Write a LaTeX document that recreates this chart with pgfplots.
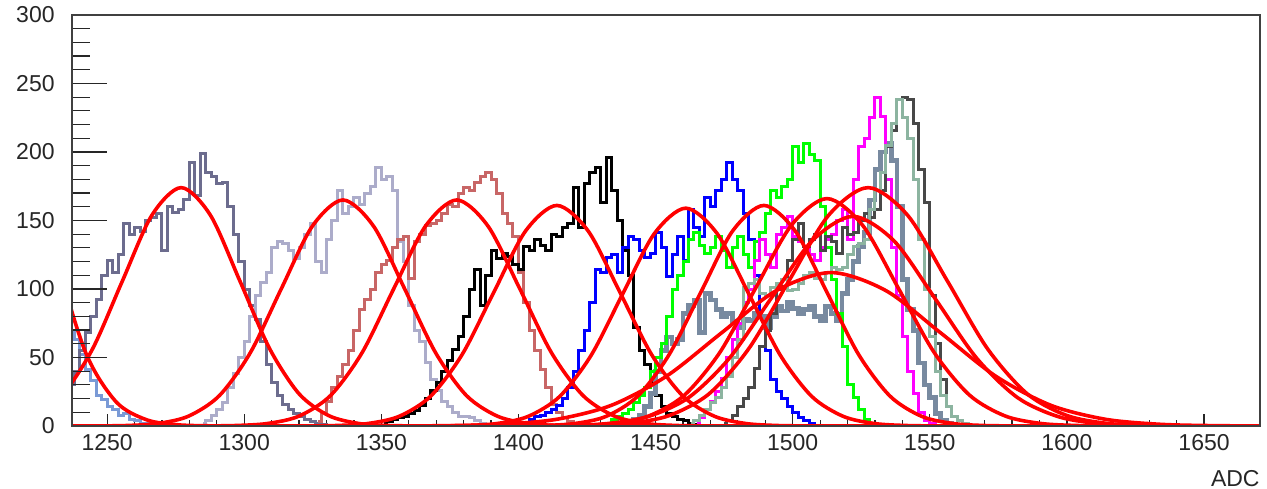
\documentclass[border=0pt]{standalone}
\usepackage{fontspec}
\setmainfont{Liberation Sans}
\usepackage{pgfplots}
\pgfplotsset{compat=1.18}
\definecolor{hA}{RGB}{122,154,214}
\definecolor{hB}{RGB}{108,108,142}
\definecolor{hC}{RGB}{172,172,202}
\definecolor{hD}{RGB}{200,102,102}
\definecolor{hH}{RGB}{120,138,160}
\definecolor{hJ}{RGB}{72,72,72}
\definecolor{hK}{RGB}{140,180,160}
\definecolor{hM}{RGB}{255,0,255}
\definecolor{hG}{RGB}{0,255,0}
\definecolor{hE}{RGB}{0,0,255}
\definecolor{fitred}{RGB}{255,0,0}
\begin{document}
\begin{tikzpicture}
\pgfplotsset{
  base/.style={
    scale only axis, width=594bp, height=205.5bp,
    xmin=1237.2, xmax=1670.4, ymin=0, ymax=300,
    axis line style={line width=0.8bp, black!75},
    tick style={black!85, line width=0.6bp},
    /pgf/number format/assume math mode=true,
    /pgf/number format/1000 sep={},
    tick label style={font=\fontsize{11.5bp}{13bp}\selectfont, black!85},
    anchor=south west, at={(0,0)},
  },
  hist/.style={const plot mark mid, line width=1.5bp, mark=none},
  fit/.style={smooth, line width=1.8bp, fitred, mark=none},
}
\begin{axis}[base,
  xtick={1250,1300,...,1650}, minor x tick num=4, xtick pos=bottom,
  major tick length=6bp, minor tick length=3bp,
  ymajorticks=false,
  xticklabel style={anchor=base, yshift=-12bp},
  xlabel={ADC},
  xlabel style={at={(rel axis cs:1,0)}, anchor=base east, yshift=-30bp, inner sep=0pt, font=\fontsize{11.5bp}{13bp}\selectfont, black!85},
]
% light blue
\addplot[hist, hA] coordinates {(1235,75)(1237,70)(1239,63)(1241,52)(1243,41)(1245,33)(1247,22)(1249,19)(1251,14)(1253,12)(1255,8)(1257,9)(1259,5)(1261,4)(1263,2)(1265,2)(1267,1)(1269,0)(1271,0)};
% dark slate
\addplot[hist, hB] coordinates {(1235,28)(1237,30)(1239,40)(1241,55)(1243,68)(1245,80)(1247,92)(1249,110)(1251,121)(1253,112)(1255,125)(1257,148)(1259,140)(1261,145)(1263,142)(1265,150)(1267,152)(1269,155)(1271,128)(1273,160)(1275,156)(1277,158)(1279,165)(1281,192)(1283,168)(1285,199)(1287,185)(1289,182)(1291,177)(1293,178)(1295,160)(1297,140)(1299,120)(1301,100)(1303,88)(1305,78)(1307,62)(1309,45)(1311,32)(1313,22)(1315,16)(1317,12)(1319,9)(1321,7)(1323,5)(1325,3)(1327,2)(1329,1)(1331,0)};
% lavender
\addplot[hist, hC] coordinates {(1285,2)(1287,4)(1289,8)(1291,12)(1293,17)(1295,28)(1297,38)(1299,50)(1301,62)(1303,80)(1305,95)(1307,105)(1309,112)(1311,130)(1313,135)(1315,133)(1317,128)(1319,122)(1321,130)(1323,140)(1325,148)(1327,120)(1329,112)(1331,136)(1333,150)(1335,172)(1337,155)(1339,160)(1341,167)(1343,162)(1345,170)(1347,175)(1349,189)(1351,180)(1353,182)(1355,172)(1357,135)(1359,120)(1361,88)(1363,70)(1365,62)(1367,46)(1369,34)(1371,26)(1373,18)(1375,14)(1377,10)(1379,7)(1381,7)(1383,6)(1385,4)(1387,2)(1389,0)};
% rosy
\addplot[hist, hD] coordinates {(1327,3)(1329,10)(1331,18)(1333,28)(1335,36)(1337,45)(1339,55)(1341,70)(1343,85)(1345,92)(1347,100)(1349,112)(1351,118)(1353,121)(1355,130)(1357,136)(1359,138)(1361,108)(1363,135)(1365,140)(1367,146)(1369,148)(1371,150)(1373,155)(1375,162)(1377,160)(1379,170)(1381,174)(1383,172)(1385,178)(1387,182)(1389,185)(1391,180)(1393,170)(1395,155)(1397,148)(1399,138)(1401,112)(1403,90)(1405,70)(1407,55)(1409,41)(1411,28)(1413,16)(1415,10)(1417,6)(1419,3)(1421,0)};
% black
\addplot[hist, black] coordinates {(1351,2)(1353,3)(1355,5)(1357,6)(1359,7)(1361,9)(1363,11)(1365,15)(1367,20)(1369,26)(1371,32)(1373,40)(1375,48)(1377,56)(1379,65)(1381,80)(1383,100)(1385,114)(1387,88)(1389,110)(1391,128)(1393,122)(1395,126)(1397,124)(1399,118)(1401,114)(1403,131)(1405,128)(1407,136)(1409,132)(1411,128)(1413,140)(1415,138)(1417,145)(1419,148)(1421,174)(1423,145)(1425,177)(1427,185)(1429,189)(1431,163)(1433,196)(1435,172)(1437,150)(1439,128)(1441,110)(1443,72)(1445,55)(1447,45)(1449,32)(1451,22)(1453,14)(1455,9)(1457,7)(1459,5)(1461,4)(1463,2)(1465,1)(1467,0)};
% blue
\addplot[hist, hE] coordinates {(1403,2)(1405,5)(1407,7)(1409,8)(1411,10)(1413,12)(1415,15)(1417,20)(1419,28)(1421,40)(1423,55)(1425,70)(1427,90)(1429,114)(1431,112)(1433,123)(1435,125)(1437,112)(1439,130)(1441,138)(1443,136)(1445,128)(1447,123)(1449,126)(1451,141)(1453,130)(1455,109)(1457,125)(1459,138)(1461,121)(1463,158)(1465,145)(1467,138)(1469,167)(1471,160)(1473,172)(1475,180)(1477,192)(1479,180)(1481,172)(1483,155)(1485,136)(1487,110)(1489,80)(1491,55)(1493,34)(1495,25)(1497,20)(1499,14)(1501,10)(1503,6)(1505,4)(1507,2)(1509,0)};
% slate (broad)
\addplot[hist, hH, line width=2.4bp] coordinates {(1441,2)(1443,5)(1445,8)(1447,14)(1449,24)(1451,40)(1453,55)(1455,65)(1457,60)(1459,63)(1461,82)(1463,88)(1465,92)(1467,68)(1469,97)(1471,92)(1473,85)(1475,80)(1477,82)(1479,76)(1481,72)(1483,78)(1485,77)(1487,82)(1489,80)(1491,72)(1493,80)(1495,87)(1497,84)(1499,90)(1501,86)(1503,82)(1505,85)(1507,87)(1509,80)(1511,77)(1513,87)(1515,82)(1517,77)(1519,97)(1521,107)(1523,120)(1525,131)(1527,141)(1529,165)(1531,187)(1533,200)(1535,206)(1537,194)(1539,160)(1541,107)(1543,85)(1545,70)(1547,46)(1549,30)(1551,21)(1553,9)(1555,4)(1557,2)(1559,0)};
% green
\addplot[hist, hG] coordinates {(1433,2)(1435,5)(1437,7)(1439,9)(1441,12)(1443,17)(1445,22)(1447,28)(1449,40)(1451,50)(1453,60)(1455,80)(1457,100)(1459,110)(1461,120)(1463,136)(1465,141)(1467,132)(1469,126)(1471,130)(1473,138)(1475,128)(1477,116)(1479,130)(1481,138)(1483,125)(1485,116)(1487,135)(1489,141)(1491,155)(1493,172)(1495,167)(1497,175)(1499,180)(1501,204)(1503,192)(1505,206)(1507,198)(1509,194)(1511,160)(1513,130)(1515,107)(1517,82)(1519,58)(1521,30)(1523,21)(1525,12)(1527,5)(1529,2)(1531,0)};
% magenta
\addplot[hist, hM] coordinates {(1465,2)(1467,6)(1469,12)(1471,18)(1473,25)(1475,35)(1477,50)(1479,63)(1481,75)(1483,90)(1485,100)(1487,121)(1489,136)(1491,125)(1493,116)(1495,140)(1497,145)(1499,153)(1501,138)(1503,135)(1505,131)(1507,125)(1509,121)(1511,130)(1513,136)(1515,140)(1517,150)(1519,158)(1521,136)(1523,180)(1525,204)(1527,210)(1529,225)(1531,240)(1533,226)(1535,180)(1537,130)(1539,95)(1541,65)(1543,40)(1545,24)(1547,10)(1549,4)(1551,2)(1553,0)};
% dark gray
\addplot[hist, hJ] coordinates {(1475,2)(1477,4)(1479,8)(1481,14)(1483,20)(1485,28)(1487,42)(1489,58)(1491,70)(1493,82)(1495,100)(1497,107)(1499,121)(1501,136)(1503,148)(1505,131)(1507,136)(1509,140)(1511,128)(1513,138)(1515,135)(1517,126)(1519,145)(1521,140)(1523,141)(1525,150)(1527,155)(1529,152)(1531,158)(1533,172)(1535,204)(1537,216)(1539,238)(1541,240)(1543,238)(1545,221)(1547,187)(1549,163)(1551,95)(1553,60)(1555,34)(1557,14)(1559,7)(1561,4)(1563,2)(1565,0)};
% gray-green
\addplot[hist, hK] coordinates {(1463,2)(1465,4)(1467,8)(1469,12)(1471,17)(1473,21)(1475,28)(1477,36)(1479,50)(1481,63)(1483,101)(1485,104)(1487,107)(1489,97)(1491,95)(1493,101)(1495,104)(1497,107)(1499,99)(1501,100)(1503,104)(1505,110)(1507,112)(1509,108)(1511,107)(1513,112)(1515,116)(1517,114)(1519,116)(1521,125)(1523,131)(1525,133)(1527,136)(1529,158)(1531,172)(1533,185)(1535,205)(1537,221)(1539,238)(1541,225)(1543,210)(1545,180)(1547,136)(1549,100)(1551,65)(1553,40)(1555,22)(1557,14)(1559,7)(1561,4)(1563,2)(1565,0)};
% fits
\addplot[fit] coordinates {(1185.75,355.6)(1197,403)(1208.25,355.6)(1219.5,244.4)(1230.75,130.9)(1242,54.5)(1253.25,17.7)(1264.5,4.47)(1275.75,0.89)(1287,0.14)(1298,0)};
\addplot[fit] coordinates {(1191,0.06)(1201.75,0.38)(1212.5,1.93)(1223.25,7.64)(1234,23.5)(1244.75,56.5)(1255.5,105.5)(1266.25,153.6)(1277,174)(1287.75,153.6)(1298.5,105.5)(1309.25,56.5)(1320,23.5)(1330.75,7.64)(1341.5,1.93)(1352.25,0.38)(1363,0.06)};
\addplot[fit] coordinates {(1246,0.055)(1257.25,0.36)(1268.5,1.83)(1279.75,7.24)(1291,22.3)(1302.25,53.6)(1313.5,100.1)(1324.75,145.6)(1336,165)(1347.25,145.6)(1358.5,100.1)(1369.75,53.6)(1381,22.3)(1392.25,7.24)(1403.5,1.83)(1414.75,0.36)(1426,0.055)};
\addplot[fit] coordinates {(1285.5,0.055)(1297,0.36)(1308.5,1.83)(1320,7.24)(1331.5,22.3)(1343,53.6)(1354.5,100.1)(1366,145.6)(1377.5,165)(1389,145.6)(1400.5,100.1)(1412,53.6)(1423.5,22.3)(1435,7.24)(1446.5,1.83)(1458,0.36)(1469.5,0.055)};
\addplot[fit] coordinates {(1322,0.054)(1333.5,0.35)(1345,1.79)(1356.5,7.07)(1368,21.8)(1379.5,52.3)(1391,97.6)(1402.5,142.1)(1414,161)(1425.5,142.1)(1437,97.6)(1448.5,52.3)(1460,21.8)(1471.5,7.07)(1483,1.79)(1494.5,0.35)(1506,0.054)};
\addplot[fit] coordinates {(1369,0.053)(1380.5,0.35)(1392,1.76)(1403.5,6.98)(1415,21.5)(1426.5,51.6)(1438,96.4)(1449.5,140.3)(1461,159)(1472.5,140.3)(1484,96.4)(1495.5,51.6)(1507,21.5)(1518.5,6.98)(1530,1.76)(1541.5,0.35)(1553,0.053)};
\addplot[fit] coordinates {(1397.5,0.054)(1409,0.35)(1420.5,1.79)(1432,7.07)(1443.5,21.8)(1455,52.3)(1466.5,97.6)(1478,142.1)(1489.5,161)(1501,142.1)(1512.5,97.6)(1524,52.3)(1535.5,21.8)(1547,7.07)(1558.5,1.79)(1570,0.35)(1581.5,0.054)};
\addplot[fit] coordinates {(1408.5,0.056)(1421.5,0.37)(1434.5,1.84)(1447.5,7.29)(1460.5,22.5)(1473.5,53.9)(1486.5,100.7)(1499.5,146.5)(1512.5,166)(1525.5,146.5)(1538.5,100.7)(1551.5,53.9)(1564.5,22.5)(1577.5,7.29)(1590.5,1.84)(1603.5,0.37)(1616.5,0.056)};
\addplot[fit] coordinates {(1411.5,0.06)(1426,0.38)(1440.5,1.93)(1455,7.64)(1469.5,23.5)(1484,56.5)(1498.5,105.5)(1513,153.6)(1527.5,174)(1542,153.6)(1556.5,105.5)(1571,56.5)(1585.5,23.5)(1600,7.64)(1614.5,1.93)(1629,0.38)(1643.5,0.06)};
\addplot[fit] coordinates {(1402,0.051)(1417,0.34)(1432,1.70)(1447,6.72)(1462,20.7)(1477,49.7)(1492,92.8)(1507,135.0)(1522,153)(1537,135.0)(1552,92.8)(1567,49.7)(1582,20.7)(1597,6.72)(1612,1.70)(1627,0.34)(1642,0.051)};
\addplot[fit] coordinates {(1354,0.04)(1374,0.25)(1394,1.24)(1414,4.92)(1434,15.2)(1454,36.4)(1474,67.9)(1494,98.8)(1514,112)(1534,98.8)(1554,67.9)(1574,36.4)(1594,15.2)(1614,4.92)(1634,1.24)(1654,0.25)(1674,0.04)};
\addplot[line width=1.8bp, fitred, mark=none] coordinates {(1237,0)(1671,0)};
\end{axis}
\begin{axis}[base,
  xmajorticks=false,
  ytick={0,50,...,300}, minor y tick num=4, ytick pos=left,
  major tick length=17.5bp, minor tick length=9bp,
  yticklabel style={anchor=east, inner sep=0pt, xshift=-8.5bp},
]
\end{axis}
\pgfresetboundingbox
\useasboundingbox (-36bp,-31.5bp) rectangle (597.5bp,213bp);
\end{tikzpicture}
\end{document}
